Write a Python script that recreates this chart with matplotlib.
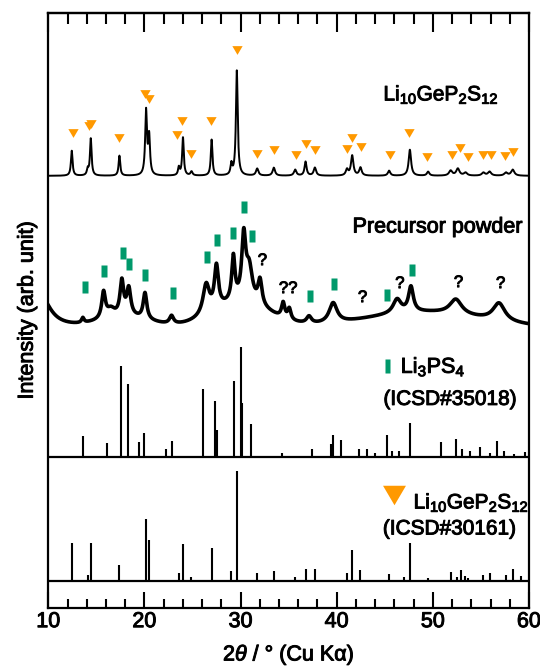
import numpy as np
import matplotlib
matplotlib.use("Agg")
import matplotlib.pyplot as plt
import matplotlib.patheffects as pe
from matplotlib.ticker import MultipleLocator

plt.rcParams['font.family'] = ['Liberation Sans', 'DejaVu Sans']
plt.rcParams['mathtext.fontset'] = 'custom'
plt.rcParams['mathtext.rm'] = 'Liberation Sans'
plt.rcParams['mathtext.it'] = 'Liberation Sans:italic'
plt.rcParams['mathtext.bf'] = 'Liberation Sans:bold'

# Li10GeP2S12 measured pattern (peak position, height, fwhm)
lgps_pos = [12.44, 14.10, 14.42, 17.40, 20.17, 20.49, 23.58, 24.01, 24.90, 26.99,
            29.04, 29.61, 31.73, 33.46, 35.68, 36.76, 37.73, 41.07, 41.61, 42.47,
            45.45, 47.61, 49.51, 51.85, 52.60, 53.40, 55.26, 55.90, 57.60, 58.31]
lgps_hgt = [25, 6, 37, 20, 64, 38, 8, 38, 4, 36,
            11, 105, 7, 8, 6, 14, 8, 6, 20, 8,
            5, 26, 4, 5, 7, 3, 3, 4, 3, 6]
lgps_fwhm = [0.2, 0.2, 0.2, 0.2, 0.22, 0.22, 0.2, 0.2, 0.25, 0.2,
             0.2, 0.22, 0.3, 0.3, 0.3, 0.25, 0.3, 0.3, 0.3, 0.3,
             0.3, 0.3, 0.3, 0.4, 0.4, 0.4, 0.4, 0.4, 0.4, 0.4]

# triangles above the Li10GeP2S12 pattern
tri_x = [12.53, 14.19, 14.48, 17.36, 20.06, 20.50, 23.38, 23.96, 24.86, 26.95,
         29.62, 31.71, 33.47, 35.75, 36.79, 37.73, 41.08, 41.62, 42.52, 45.55,
         47.57, 49.37, 51.97, 52.80, 53.66, 55.21, 56.04, 57.55, 58.38]
tri_y = [43, 50, 52, 38, 82, 77, 41, 55, 22, 55,
         126, 22, 26, 21, 32, 26, 27, 38, 29, 21,
         43, 19, 21, 28, 19, 21, 21, 20, 24]

# precursor powder: broad humps (gaussian) and peaks (lorentzian)
pre_hump_pos = [18.0, 30.0, 49.0]
pre_hump_hgt = [10, 24, 15]
pre_hump_fwhm = [6, 7, 14]
pre_pos = [9.2, 13.59, 15.75, 16.5, 17.65, 18.37, 20.06, 22.82, 26.42, 27.49,
           29.25, 30.33, 30.9, 32.02, 34.43, 35.07, 37.12, 39.63, 46.28, 47.72,
           52.39, 56.88]
pre_hgt = [32, 5, 26, 8, 34, 27, 26, 8, 30, 42,
           44, 62, 33, 25, 15, 11, 7, 20, 14, 25,
           15, 18]
pre_fwhm = [2.4, 0.3, 0.45, 1.0, 0.45, 0.5, 0.45, 0.5, 0.8, 0.5,
            0.4, 0.5, 0.8, 0.5, 0.4, 0.4, 0.6, 1.0, 1.0, 0.6,
            1.5, 1.5]

# green marks (Li3PS4) and question marks on the precursor pattern
sq_x = [13.77, 15.82, 17.76, 18.44, 20.09, 22.97, 26.52, 27.53, 29.25, 30.33,
        31.16, 37.19, 39.71, 45.20, 47.79]
sq_y = [41, 57, 75, 64, 53, 35, 71, 88, 95, 121, 92, 32, 44, 33, 58]
q_x = [32.27, 34.95, 42.69, 46.57, 52.67, 57.05]
q_y = [67, 39, 30, 44, 45, 44]
q_txt = ['?', '??', '?', '?', '?', '?']

# Li3PS4 reference (ICSD#35018)
lps_pos = [13.59, 16.07, 17.54, 18.33, 19.41, 19.95, 22.21, 22.82, 26.09, 27.31,
           27.53, 29.32, 30.01, 30.11, 31.08, 34.35, 37.41, 39.38, 39.63, 40.46,
           42.33, 43.12, 43.94, 45.27, 45.74, 46.46, 47.61, 50.88, 52.39, 53.03,
           53.82, 54.90, 55.98, 56.70, 57.41, 58.49, 59.57]
lps_int = [21, 14, 91, 73, 15, 24, 8, 16, 68, 56,
           27, 76, 110, 54, 33, 4, 8, 13, 22, 17,
           8, 8, 4, 22, 6, 6, 34, 15, 18, 8,
           6, 10, 4, 16, 6, 3, 5]

# Li10GeP2S12 reference (ICSD#30161)
icsd_pos = [12.44, 14.10, 14.42, 17.40, 20.17, 20.49, 23.58, 24.01, 24.80, 26.99,
            29.04, 29.61, 31.73, 33.46, 35.68, 36.76, 37.73, 41.07, 41.61, 42.47,
            45.45, 46.95, 47.61, 49.51, 51.85, 52.55, 52.93, 53.30, 53.70, 55.26,
            55.90, 57.60, 58.31, 59.14]
icsd_int = [38, 6, 38, 16, 62, 41, 8, 37, 4, 33,
            10, 110, 8, 10, 4, 12, 12, 8, 31, 11,
            7, 4, 38, 3, 9, 4, 11, 5, 3, 6,
            8, 6, 12, 5]

# vertical offsets of the stacked patterns
TOP_OFF = 431.7
PRE_OFF = 280.0
LPS_OFF = 150.2
ICSD_OFF = 27.0

ORANGE = '#FF9900'
GREEN = '#00996B'
bold_fx = [pe.withStroke(linewidth=0.7, foreground='black')]


def lorentz(x, pos, hgt, fwhm):
    y = np.zeros_like(x)
    for p, h, w in zip(pos, hgt, fwhm):
        y += h / (1 + ((x - p) / (w / 2)) ** 2)
    return y


def gauss(x, pos, hgt, fwhm):
    y = np.zeros_like(x)
    for p, h, w in zip(pos, hgt, fwhm):
        y += h * np.exp(-4 * np.log(2) * ((x - p) / w) ** 2)
    return y


tth = np.linspace(10, 60, 5001)
top_curve = lorentz(tth, lgps_pos, lgps_hgt, lgps_fwhm)
pre_curve = gauss(tth, pre_hump_pos, pre_hump_hgt, pre_hump_fwhm) + lorentz(tth, pre_pos, pre_hgt, pre_fwhm)

tri_marker = [(-1, 0.85), (1, 0.85), (0, -0.85), (-1, 0.85)]
rect_marker = [(-0.5, -1), (0.5, -1), (0.5, 1), (-0.5, 1), (-0.5, -1)]
rect_leg = [(-0.36, -1), (0.36, -1), (0.36, 1), (-0.36, 1), (-0.36, -1)]

fig = plt.figure(figsize=(5.4, 6.68), dpi=100)
ax = fig.add_axes([0.0894, 0.0903, 0.8902, 0.8895])

ax.plot(tth, top_curve + TOP_OFF, color='black', lw=1.4)
ax.plot(tth, pre_curve + PRE_OFF, color='black', lw=2.6)
ax.vlines(lps_pos, LPS_OFF, LPS_OFF + np.array(lps_int), color='black', lw=1.5)
ax.vlines(icsd_pos, ICSD_OFF, ICSD_OFF + np.array(icsd_int), color='black', lw=1.5)
ax.axhline(LPS_OFF, color='black', lw=1.6)
ax.axhline(ICSD_OFF, color='black', lw=1.6)

ax.plot(tri_x, np.array(tri_y) + TOP_OFF, ls='none', marker=tri_marker, ms=7.4,
        color=ORANGE, mec='none')
ax.plot(sq_x, np.array(sq_y) + PRE_OFF, ls='none', marker=rect_marker, ms=8.3,
        color=GREEN, mec='none')
for x, y, t in zip(q_x, q_y, q_txt):
    ax.text(x, y + PRE_OFF, t, ha='center', va='center', fontsize=12, path_effects=bold_fx)

# labels in the panels
ax.text(44.86, 507, 'Li$_{10}$GeP$_2$S$_{12}$', fontsize=15, ha='left', va='baseline',
        path_effects=bold_fx)
ax.text(41.65, 375, 'Precursor powder', fontsize=15.5, ha='left', va='baseline',
        path_effects=bold_fx)

ax.plot([45.22], [241.7], ls='none', marker=rect_leg, ms=10, color=GREEN, mec='none')
ax.text(46.66, 234.7, 'Li$_3$PS$_4$', fontsize=15.5, ha='left', va='baseline',
        path_effects=bold_fx)
ax.text(44.86, 202.7, '(ICSD#35018)', fontsize=15, ha='left', va='baseline',
        path_effects=bold_fx)

ax.plot([45.94], [112.2], ls='none', marker=tri_marker, ms=16.5, color=ORANGE, mec='none')
ax.text(48.0, 99.1, 'Li$_{10}$GeP$_2$S$_{12}$', fontsize=15, ha='left', va='baseline',
        path_effects=bold_fx)
ax.text(44.8, 73.2, '(ICSD#30161)', fontsize=15, ha='left', va='baseline',
        path_effects=bold_fx)

ax.set_xlim(10, 60)
ax.set_ylim(0, 594)
ax.set_yticks([])
ax.xaxis.set_major_locator(MultipleLocator(10))
ax.xaxis.set_minor_locator(MultipleLocator(2))
ax.tick_params(axis='x', which='both', direction='in', bottom=True, top=False,
               width=1.5, labelsize=15.5, pad=2.5)
ax.tick_params(axis='x', which='major', length=11.5)
ax.tick_params(axis='x', which='minor', length=6.2)
for lab in ax.get_xticklabels():
    lab.set_path_effects(bold_fx)
for s in ax.spines.values():
    s.set_linewidth(1.6)

top = ax.secondary_xaxis('top')
top.xaxis.set_major_locator(MultipleLocator(10))
top.xaxis.set_minor_locator(MultipleLocator(2))
top.tick_params(axis='x', which='both', direction='in', width=1.5, labeltop=False)
top.tick_params(axis='x', which='major', length=14)
top.tick_params(axis='x', which='minor', length=8)
top.spines['top'].set_linewidth(1.6)

ax.set_xlabel(r'2$\theta$ / ° (Cu Kα)', fontsize=15.5, path_effects=bold_fx)
ax.xaxis.set_label_coords(0.5, -0.057)
ax.set_ylabel('Intensity (arb. unit)', fontsize=15.5, path_effects=bold_fx)
ax.yaxis.set_label_coords(-0.022, 0.5)

fig.savefig('out.png', dpi=100)
